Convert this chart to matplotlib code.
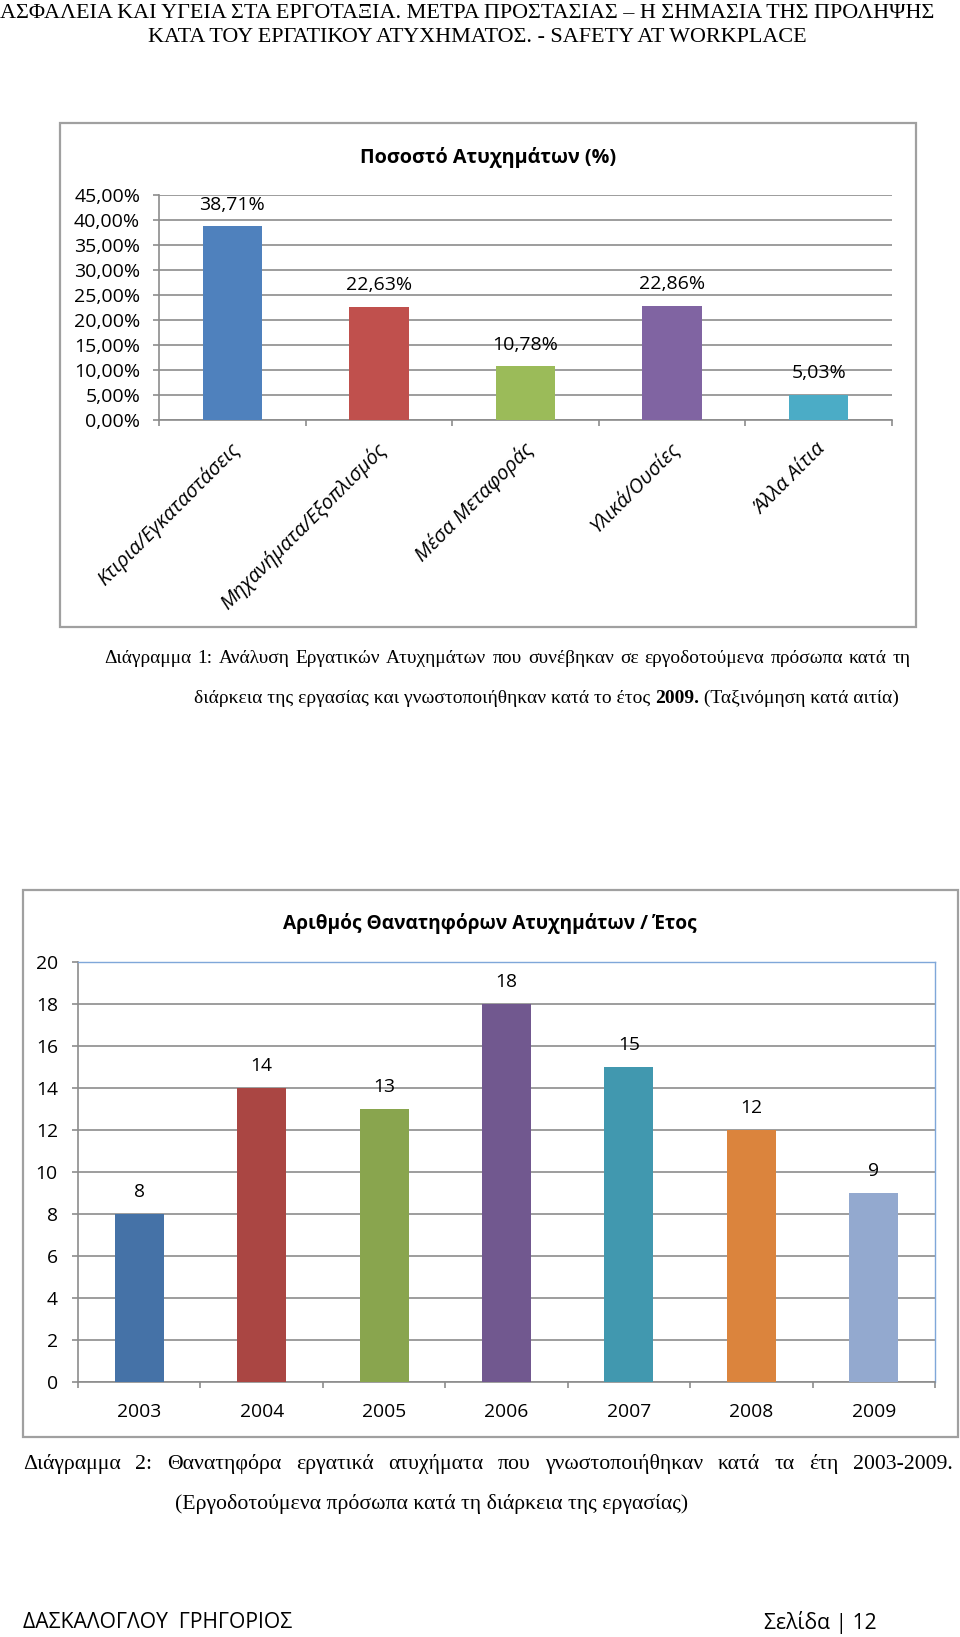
import matplotlib
matplotlib.use('Agg')
import matplotlib.pyplot as plt
from matplotlib.patches import Rectangle
from matplotlib.ticker import FuncFormatter, FixedLocator, NullFormatter
from matplotlib.transforms import ScaledTranslation

# ---------------- data ----------------
causes = ["Κτιρια/Εγκαταστάσεις", "Μηχανήματα/Εξοπλισμός", "Μέσα Μεταφοράς",
          "Υλικά/Ουσίες", "Άλλα Αίτια"]
cause_pct = [38.71, 22.63, 10.78, 22.86, 5.03]
cause_colors = ["#4F81BD", "#C0504D", "#9BBB59", "#8064A2", "#4BACC6"]
pct_ticks = [0, 5, 10, 15, 20, 25, 30, 35, 40, 45]

years = ["2003", "2004", "2005", "2006", "2007", "2008", "2009"]
fatal = [8, 14, 13, 18, 15, 12, 9]
year_colors = ["#4572A7", "#AA4643", "#89A54E", "#71588F", "#4198AF", "#DB843D", "#93A9CF"]
count_ticks = [0, 2, 4, 6, 8, 10, 12, 14, 16, 18, 20]

header = ["ΑΣΦΑΛΕΙΑ ΚΑΙ ΥΓΕΙΑ ΣΤΑ ΕΡΓΟΤΑΞΙΑ. ΜΕΤΡΑ ΠΡΟΣΤΑΣΙΑΣ – Η ΣΗΜΑΣΙΑ ΤΗΣ ΠΡΟΛΗΨΗΣ",
          "ΚΑΤΑ ΤΟΥ ΕΡΓΑΤΙΚΟΥ ΑΤΥΧΗΜΑΤΟΣ. - SAFETY AT WORKPLACE"]
title1 = "Ποσοστό Ατυχημάτων (%)"
title2 = "Αριθμός Θανατηφόρων Ατυχημάτων / Έτος"
cap1_l1 = "Διάγραμμα 1: Ανάλυση Εργατικών Ατυχημάτων που συνέβηκαν σε εργοδοτούμενα πρόσωπα κατά τη"
cap1_l2 = ["διάρκεια της εργασίας και γνωστοποιήθηκαν κατά το έτος ", "2009.", " (Ταξινόμηση κατά αιτία)"]
cap2_l1 = "Διάγραμμα 2: Θανατηφόρα εργατικά ατυχήματα που γνωστοποιήθηκαν κατά τα έτη 2003-2009."
cap2_l2 = "(Εργοδοτούμενα πρόσωπα κατά τη διάρκεια της εργασίας)"
footer_left = "ΔΑΣΚΑΛΟΓΛΟΥ  ΓΡΗΓΟΡΙΟΣ"
footer_right = "Σελίδα | 12"

# ---------------- setup ----------------
W, H, DPI = 960, 1637, 100
SANS = ['Open Sans', 'DejaVu Sans']
SERIF = ['Liberation Serif', 'DejaVu Serif']
GRID = '#8C8C8C'
TXT = '#000000'

fig = plt.figure(figsize=(W / DPI, H / DPI), dpi=DPI)
fig.patch.set_facecolor('white')
renderer = fig.canvas.get_renderer()


def fx(x):
    return x / W


def fy(y):
    return 1 - y / H


def measure(s, size=10, family=SANS, weight='normal', style='normal'):
    t = fig.text(0, 0, s, fontsize=size, family=family, weight=weight, style=style)
    w = t.get_window_extent(renderer).width
    t.remove()
    return w


def fit(s, target, family=SANS, weight='normal', style='normal'):
    return 10 * target / measure(s, 10, family, weight, style)


def px_axes(l, t, r, b):
    return fig.add_axes([fx(l), fy(b), (r - l) / W, (b - t) / H])


def box(l, t, r, b):
    fig.add_artist(Rectangle((fx(l), fy(b)), (r - l) / W, (b - t) / H,
                             transform=fig.transFigure, fill=False,
                             edgecolor='#A0A0A0', lw=1.6))


def justify(text, x0, x1, ybase, size, family=SERIF):
    words = text.split(' ')
    arts = [fig.text(0, 0, w, fontsize=size, family=family, color=TXT, va='baseline')
            for w in words]
    widths = [a.get_window_extent(renderer).width for a in arts]
    gap = (x1 - x0 - sum(widths)) / (len(words) - 1)
    x = x0
    for a, w in zip(arts, widths):
        a.set_position((fx(x), fy(ybase)))
        x += w + gap


# ---------------- header ----------------
hsize = fit(header[0], 934, SERIF)
fig.text(fx(467), fy(13), header[0], fontsize=hsize, family=SERIF, ha='center', va='center', color=TXT)
fig.text(fx(477), fy(37), header[1], fontsize=hsize, family=SERIF, ha='center', va='center', color=TXT)

# ---------------- chart 1 ----------------
box(60, 123, 916, 627)
ax1 = px_axes(159, 195, 892, 420)
n1 = len(causes)
ax1.bar(range(n1), cause_pct, width=0.405, color=cause_colors, zorder=3)
ax1.set_xlim(-0.5, n1 - 0.5)
ax1.set_ylim(pct_ticks[0], pct_ticks[-1])
ax1.yaxis.set_major_locator(FixedLocator(pct_ticks))
ax1.yaxis.set_major_formatter(FuncFormatter(lambda v, p: f"{v:.2f}%".replace('.', ',')))
ax1.xaxis.set_major_locator(FixedLocator([i - 0.5 for i in range(n1 + 1)]))
ax1.xaxis.set_major_formatter(NullFormatter())
ax1.grid(axis='y', color=GRID, lw=1.2, zorder=0)
ax1.set_axisbelow(True)
for s in ['top', 'right']:
    ax1.spines[s].set_visible(False)
for s in ['left', 'bottom']:
    ax1.spines[s].set_color(GRID)
    ax1.spines[s].set_linewidth(1.2)
tick1 = fit("45,00%", 66)
ax1.tick_params(axis='y', length=4.5, width=1.2, color=GRID, pad=9, labelsize=tick1, labelcolor=TXT)
ax1.tick_params(axis='x', length=4.5, width=1.2, color=GRID)
for lab in ax1.get_yticklabels():
    lab.set_family(SANS)
for i, v in enumerate(cause_pct):
    ax1.annotate(f"{v:.2f}%".replace('.', ','), (i, v), xytext=(0, 15.5), textcoords='offset points',
                 ha='center', va='center', fontsize=tick1, family=SANS, color=TXT)
rot_size = fit(causes[0], 192, style='italic')
tr = ax1.get_xaxis_transform() + ScaledTranslation(-3 / DPI, -19 / DPI, fig.dpi_scale_trans)
for i, c in enumerate(causes):
    ax1.text(i, 0, c, transform=tr, rotation=45, rotation_mode='anchor', ha='right', va='top',
             fontsize=rot_size, family=SANS, style='italic', color=TXT)
t1 = fit(title1, 256, weight='bold')
fig.text(fx(488), fy(157), title1, fontsize=t1, family=SANS, weight='bold', ha='center', va='center', color=TXT)

# ---------------- caption sizes ----------------
cap1_l2_full = ''.join(cap1_l2)
s_a = fit(cap2_l2, 512, SERIF)
s_b = fit(cap1_l2_full, 700, SERIF)
s_c = min(s_b, fit(cap1_l1, 790, SERIF))
s_d = min(s_a, fit(cap2_l1, 900, SERIF))

# ---------------- caption 1 ----------------
justify(cap1_l1, 104, 911, 663, s_c)
p1 = fig.text(fx(194), fy(703), cap1_l2[0], fontsize=s_b, family=SERIF, va='baseline', color=TXT)
p1w = p1.get_window_extent(renderer).width
p2 = fig.text(fx(194 + p1w), fy(703), cap1_l2[1], fontsize=s_b, family=SERIF, weight='bold',
              va='baseline', color=TXT)
p2w = p2.get_window_extent(renderer).width
fig.text(fx(194 + p1w + p2w), fy(703), cap1_l2[2], fontsize=s_b, family=SERIF, va='baseline', color=TXT)

# ---------------- chart 2 ----------------
box(23, 890, 958, 1437)
ax2 = px_axes(78, 962, 935, 1382)
n2 = len(years)
ax2.bar(range(n2), fatal, width=0.40, color=year_colors, zorder=3)
ax2.set_xlim(-0.5, n2 - 0.5)
ax2.set_ylim(count_ticks[0], count_ticks[-1])
ax2.yaxis.set_major_locator(FixedLocator(count_ticks))
ax2.xaxis.set_major_locator(FixedLocator([i - 0.5 for i in range(n2 + 1)]))
ax2.xaxis.set_major_formatter(NullFormatter())
ax2.set_xticks(range(n2), years, minor=True)
ax2.grid(axis='y', color=GRID, lw=1.2, zorder=0)
ax2.set_axisbelow(True)
for s in ['top', 'right']:
    ax2.spines[s].set_color('#7FA7D9')
    ax2.spines[s].set_linewidth(1.0)
for s in ['left', 'bottom']:
    ax2.spines[s].set_color(GRID)
    ax2.spines[s].set_linewidth(1.2)
tick2 = fit("2003", 44)
ax2.tick_params(axis='y', length=4.5, width=1.2, color=GRID, pad=10, labelsize=tick2, labelcolor=TXT)
ax2.tick_params(axis='x', which='major', length=4.5, width=1.2, color=GRID)
ax2.tick_params(axis='x', which='minor', length=0, pad=15, labelsize=tick2, labelcolor=TXT)
for lab in ax2.get_yticklabels() + ax2.get_xticklabels(minor=True):
    lab.set_family(SANS)
for i, v in enumerate(fatal):
    ax2.annotate(str(v), (i, v), xytext=(0, 16), textcoords='offset points',
                 ha='center', va='center', fontsize=tick2, family=SANS, color=TXT)
t2 = fit(title2, 413, weight='bold')
fig.text(fx(490), fy(923), title2, fontsize=t2, family=SANS, weight='bold', ha='center', va='center', color=TXT)

# ---------------- caption 2 ----------------
justify(cap2_l1, 23, 953, 1469, s_d)
fig.text(fx(175), fy(1509), cap2_l2, fontsize=s_a, family=SERIF, va='baseline', color=TXT)

# ---------------- footer ----------------
fsize = fit(footer_left, 269)
fig.text(fx(23), fy(1623), footer_left, fontsize=fsize, family=SANS, va='center', color=TXT)
fig.text(fx(877), fy(1623), footer_right, fontsize=fsize, family=SANS, ha='right', va='center', color=TXT)

fig.savefig('out.png', dpi=DPI, facecolor='white')
